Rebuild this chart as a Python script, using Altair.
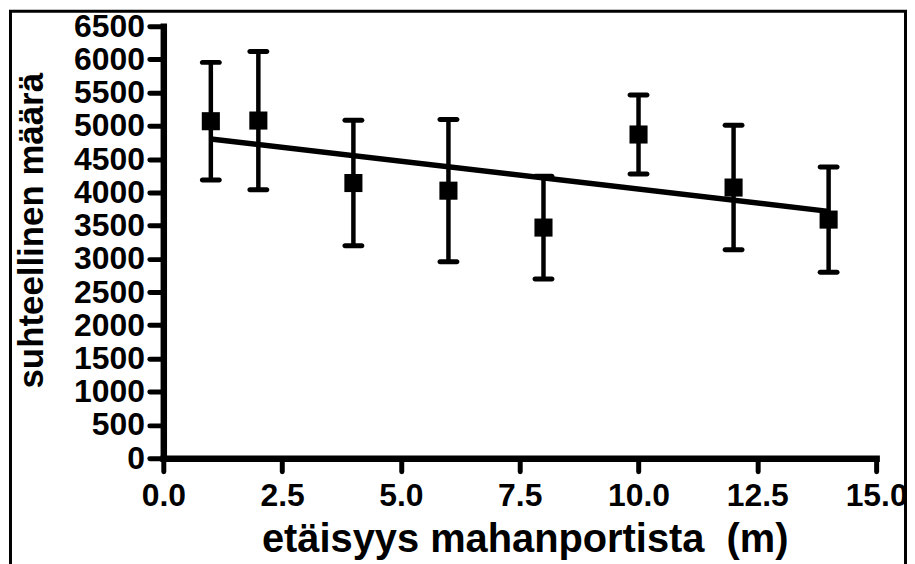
import altair as alt
import pandas as pd

# distances (m)
x_vals = [1, 2, 4, 6, 8, 10, 12, 14]
# mean relative amount
means = [5070, 5080, 4140, 4025, 3470, 4870, 4072, 3590]
# error bar ends
lower = [4185, 4040, 3195, 2955, 2698, 4276, 3136, 2799]
upper = [5955, 6120, 5085, 5095, 4242, 5464, 5008, 4381]

x_ticks = [0, 2.5, 5, 7.5, 10, 12.5, 15]
y_ticks = list(range(0, 6501, 500))

df = pd.DataFrame({"x": x_vals, "y": means, "lo": lower, "hi": upper})

FONT = "Liberation Sans"

xs = alt.Scale(domain=[0, 15], nice=False, zero=False)
ys = alt.Scale(domain=[0, 6500], nice=False)

x_axis = alt.Axis(
    values=x_ticks, format=".1f", grid=False,
    title="etäisyys mahanportista\u00a0 (m)",
    titleFont=FONT, titleFontSize=40, titleFontWeight="bold", titleColor="black",
    titleBaseline="alphabetic", titleY=94, titleX=363, titleAlign="center",
    labelFont=FONT, labelFontSize=32, labelFontWeight="bold", labelColor="black",
    labelPadding=9, labelFlush=False, labelOverlap=False, labelBound=False,
    domainColor="black", domainWidth=6.5, domainCap="square",
    tickColor="black", tickWidth=5, tickSize=13, tickCap="round",
)
y_axis = alt.Axis(
    values=y_ticks, format="d", grid=False,
    title="suhteellinen määrä",
    titleFont=FONT, titleFontSize=35, titleFontWeight="bold", titleColor="black",
    titleBaseline="alphabetic", titleX=-121, titleY=205, titleAngle=270,
    titleAlign="center",
    labelFont=FONT, labelFontSize=32, labelFontWeight="bold", labelColor="black",
    labelPadding=5, labelFlush=False, labelOverlap=False, labelBound=False,
    domainColor="black", domainWidth=6.5, domainCap="square",
    tickColor="black", tickWidth=5, tickSize=14, tickCap="round",
)


def X():
    return alt.X("x:Q", scale=xs, axis=x_axis)


def Y(field):
    return alt.Y(field, type="quantitative", scale=ys, axis=y_axis)


base = alt.Chart(df)

rules = base.mark_rule(color="black", strokeWidth=4.5).encode(
    x=X(), y=Y("lo"), y2="hi:Q",
)
caps_lo = base.mark_tick(color="black", orient="horizontal", size=22, thickness=5,
                         cornerRadius=2.5, opacity=1).encode(x=X(), y=Y("lo"))
caps_hi = base.mark_tick(color="black", orient="horizontal", size=22, thickness=5,
                         cornerRadius=2.5, opacity=1).encode(x=X(), y=Y("hi"))
fit = base.transform_regression("x", "y", extent=[1, 14]).mark_line(
    color="black", strokeWidth=5.5
).encode(x=X(), y=Y("y"))
pts = base.mark_point(shape="square", filled=True, size=330, color="black",
                      opacity=1).encode(x=X(), y=Y("y"))

frame = alt.Chart(alt.Data(values=[{"a": 1}])).mark_rect(
    filled=False, stroke="black", strokeWidth=3
).encode(
    x=alt.value(-153.5), x2=alt.value(745.5), y=alt.value(-15), y2=alt.value(560)
)

chart = alt.layer(rules, caps_lo, caps_hi, fit, pts, frame).properties(
    width=716, height=434,
    background="white",
    autosize=alt.AutoSizeParams(type="none"),
    padding={"left": 156, "top": 17, "right": 31, "bottom": 105},
).configure_view(stroke="transparent", strokeWidth=0)

chart.save("out.html", embed_options={"renderer": "svg", "actions": False})
